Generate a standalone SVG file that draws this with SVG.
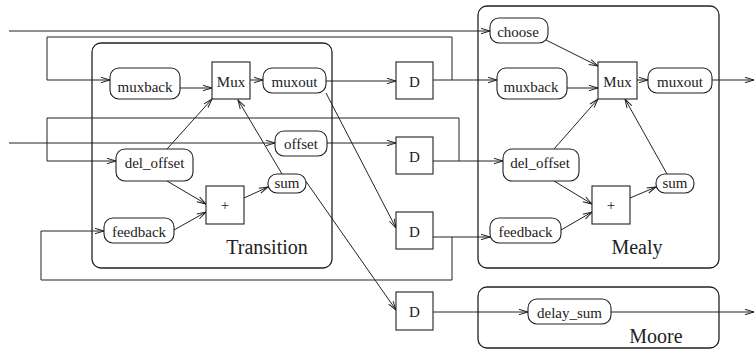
<svg xmlns="http://www.w3.org/2000/svg" width="755" height="349" viewBox="0 0 755 349">
<style>
.c{fill:none;stroke:#222;stroke-width:1}
.n{fill:#fff;stroke:#222;stroke-width:1.1}
.b{fill:none;stroke:#222;stroke-width:1.3}
.t{font-family:"Liberation Serif",serif;font-size:15px;fill:#222;text-anchor:middle}
.L{font-family:"Liberation Serif",serif;font-size:20px;fill:#222;text-anchor:middle}
</style>
<defs>
<marker id="a" markerUnits="userSpaceOnUse" markerWidth="12" markerHeight="8" refX="10" refY="4" orient="auto">
<path d="M1,1.3 L10,4 L1,6.7" fill="none" stroke="#222" stroke-width="1"/>
</marker>
</defs>
<rect width="755" height="349" fill="#fff"/>
<g id="transition"><rect class="b" x="92" y="43" width="240" height="225" rx="9"/><text class="L" x="267" y="254">Transition</text></g>
<g id="mealy"><rect class="b" x="478" y="6" width="241" height="262" rx="9"/><text class="L" x="637" y="254">Mealy</text></g>
<g id="moore"><rect class="b" x="478" y="287" width="241" height="61" rx="9"/><text class="L" x="656" y="343">Moore</text></g>
<g id="connectors">
<path class="c" d="M9,31 H490" marker-end="url(#a)"/>
<path class="c" d="M452,80 V37 H47 V80 H110" marker-end="url(#a)"/>
<path class="c" d="M433,80 H497" marker-end="url(#a)"/>
<path class="c" d="M180,88 H212" marker-end="url(#a)"/>
<path class="c" d="M250,80 H263" marker-end="url(#a)"/>
<path class="c" d="M326,81 H396" marker-end="url(#a)"/>
<path class="c" d="M459,161 V118 H47 V161 H116" marker-end="url(#a)"/>
<path class="c" d="M433,161 H503" marker-end="url(#a)"/>
<path class="c" d="M9,143 H275" marker-end="url(#a)"/>
<path class="c" d="M327,143 H396" marker-end="url(#a)"/>
<path class="c" d="M167,149 L212,99" marker-end="url(#a)"/>
<path class="c" d="M282,174 L238,100" marker-end="url(#a)"/>
<path class="c" d="M167,181 L206,204" marker-end="url(#a)"/>
<path class="c" d="M174,230 L206,212" marker-end="url(#a)"/>
<path class="c" d="M244,198 L268,187" marker-end="url(#a)"/>
<path class="c" d="M452,237 V280 H41 V231 H104" marker-end="url(#a)"/>
<path class="c" d="M433,237 H490" marker-end="url(#a)"/>
<path class="c" d="M326,93 L396,228" marker-end="url(#a)"/>
<path class="c" d="M305,180 L396,310" marker-end="url(#a)"/>
<path class="c" d="M433,312 H528" marker-end="url(#a)"/>
<path class="c" d="M611,312 H754" marker-end="url(#a)"/>
<path class="c" d="M542,38 L598,66" marker-end="url(#a)"/>
<path class="c" d="M567,88 H598" marker-end="url(#a)"/>
<path class="c" d="M637,80 H648" marker-end="url(#a)"/>
<path class="c" d="M712,80 H754" marker-end="url(#a)"/>
<path class="c" d="M554,149 L598,99" marker-end="url(#a)"/>
<path class="c" d="M667,174 L625,99" marker-end="url(#a)"/>
<path class="c" d="M554,181 L592,204" marker-end="url(#a)"/>
<path class="c" d="M561,230 L592,212" marker-end="url(#a)"/>
<path class="c" d="M630,198 L656,187" marker-end="url(#a)"/>
</g>
<g id="t_muxback"><rect class="n" x="110" y="68" width="70" height="31" rx="9"/><text class="t" x="145" y="92">muxback</text></g>
<g id="t_mux"><rect class="n" x="212" y="62" width="38" height="37"/><text class="t" x="231" y="87">Mux</text></g>
<g id="t_muxout"><rect class="n" x="263" y="68" width="63" height="25" rx="9"/><text class="t" x="294.5" y="87">muxout</text></g>
<g id="t_offset"><rect class="n" x="275" y="131" width="52" height="25" rx="9"/><text class="t" x="301" y="149">offset</text></g>
<g id="t_del_offset"><rect class="n" x="116" y="149" width="77" height="32" rx="9"/><text class="t" x="154.5" y="168">del_offset</text></g>
<g id="t_sum"><rect class="n" x="268" y="174" width="38" height="19" rx="9"/><text class="t" x="287" y="188">sum</text></g>
<g id="t_plus"><rect class="n" x="206" y="186" width="38" height="38"/><text class="t" x="225" y="210">+</text></g>
<g id="t_feedback"><rect class="n" x="104" y="218" width="70" height="25" rx="9"/><text class="t" x="139" y="237">feedback</text></g>
<g id="d1"><rect class="n" x="396" y="62" width="37" height="37"/><text class="t" x="414.5" y="87">D</text></g>
<g id="d2"><rect class="n" x="396" y="137" width="37" height="37"/><text class="t" x="414.5" y="162">D</text></g>
<g id="d3"><rect class="n" x="396" y="212" width="37" height="37"/><text class="t" x="414.5" y="237">D</text></g>
<g id="d4"><rect class="n" x="396" y="292" width="37" height="38"/><text class="t" x="414.5" y="317">D</text></g>
<g id="m_choose"><rect class="n" x="490" y="18" width="58" height="25" rx="9"/><text class="t" x="518" y="37">choose</text></g>
<g id="m_muxback"><rect class="n" x="497" y="68" width="70" height="31" rx="9"/><text class="t" x="531" y="92">muxback</text></g>
<g id="m_mux"><rect class="n" x="598" y="62" width="39" height="37"/><text class="t" x="617.5" y="87">Mux</text></g>
<g id="m_muxout"><rect class="n" x="648" y="68" width="64" height="25" rx="9"/><text class="t" x="680" y="87">muxout</text></g>
<g id="m_del_offset"><rect class="n" x="503" y="149" width="76" height="32" rx="9"/><text class="t" x="540" y="168">del_offset</text></g>
<g id="m_sum"><rect class="n" x="656" y="174" width="38" height="19" rx="9"/><text class="t" x="675" y="188">sum</text></g>
<g id="m_plus"><rect class="n" x="592" y="186" width="38" height="38"/><text class="t" x="611" y="210">+</text></g>
<g id="m_feedback"><rect class="n" x="490" y="218" width="71" height="25" rx="9"/><text class="t" x="525.5" y="237">feedback</text></g>
<g id="delay_sum"><rect class="n" x="528" y="299" width="83" height="25" rx="9"/><text class="t" x="569.5" y="318">delay_sum</text></g>
</svg>
